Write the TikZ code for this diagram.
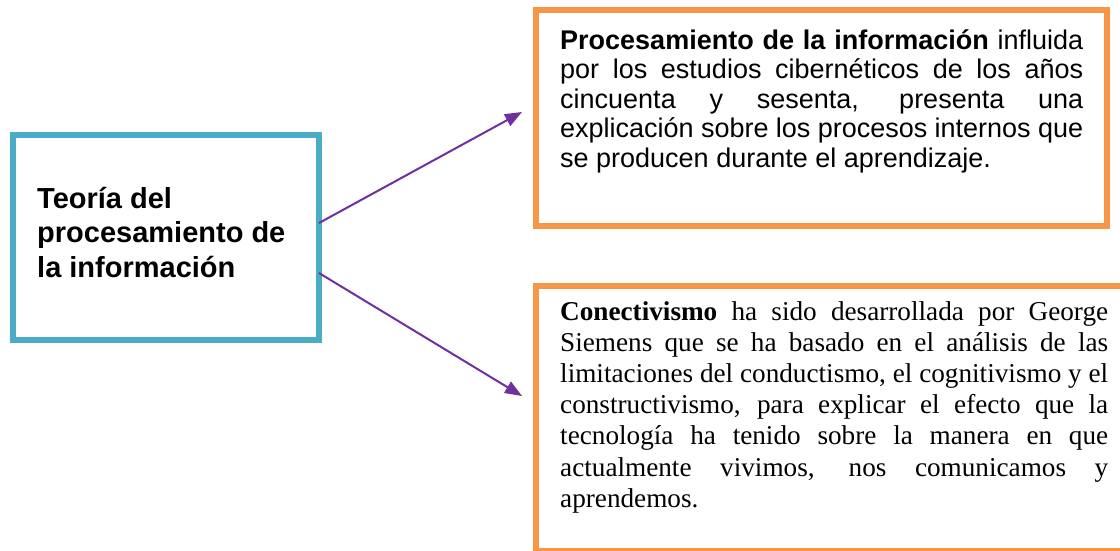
\documentclass[tikz,border=0pt]{standalone}
\usepackage{fontspec}
\newfontfamily\arialf{Liberation Sans}
\newfontfamily\timesf{Liberation Serif}
\usetikzlibrary{arrows.meta}
\definecolor{boxteal}{HTML}{4BACC6}
\definecolor{boxorange}{HTML}{F79646}
\definecolor{arrpurple}{HTML}{7030A0}
\begin{document}
\begin{tikzpicture}[x=1pt,y=-1pt,
  box/.style={draw, line width=6.5pt, inner sep=0pt, outer sep=0pt},
  conn/.style={draw=arrpurple, line width=2pt, -{Triangle[length=17pt,width=13pt]}},
  txt/.style={inner sep=0pt, anchor=base west}]
\useasboundingbox (0,0) rectangle (1120,550);
\clip (0,0) rectangle (1120,550);
\fill[white] (0,0) rectangle (1120,550);
\node[box, draw=boxteal, minimum width=306pt, minimum height=205pt] (L) at (166,237.5) {};
\node[box, draw=boxorange, minimum width=571pt, minimum height=216pt] (T) at (821.5,118) {};
\node[box, draw=boxorange, minimum width=604pt, minimum height=265pt] (B) at (838,418.5) {};
\node[txt] (Lt) at (37,208) {\parbox[t]{280pt}{\arialf\bfseries\fontsize{29}{34.5}\selectfont Teoría del\\procesamiento de\\la información}};
\node[txt] (Tt) at (560,49) {\parbox[t]{523pt}{\arialf\fontsize{27}{29.6}\selectfont
\makebox[523pt][s]{\textbf{Procesamiento de la información} influida}\\
\makebox[523pt][s]{por los estudios cibernéticos de los años}\\
\makebox[523pt][s]{cincuenta y sesenta, presenta una}\\
\makebox[523pt][s]{explicación sobre los procesos internos que}\\
se producen durante el aprendizaje.}};
\node[txt] (Bt) at (560,320) {\parbox[t]{548pt}{\timesf\fontsize{27.2}{31.2}\selectfont
\makebox[548pt][s]{\textbf{Conectivismo} ha sido desarrollada por George}\\
\makebox[548pt][s]{Siemens que se ha basado en el análisis de las}\\
\makebox[548pt][s]{limitaciones del conductismo, el cognitivismo y el}\\
\makebox[548pt][s]{constructivismo, para explicar el efecto que la}\\
\makebox[548pt][s]{tecnología ha tenido sobre la manera en que}\\
\makebox[548pt][s]{actualmente vivimos, nos comunicamos y}\\
aprendemos.}};
\coordinate (s1) at (319,223);
\coordinate (t1) at (522,112);
\coordinate (s2) at (319,273);
\coordinate (t2) at (522,396);
\draw[conn] (s1) -- (t1);
\draw[conn] (s2) -- (t2);
\end{tikzpicture}
\end{document}
